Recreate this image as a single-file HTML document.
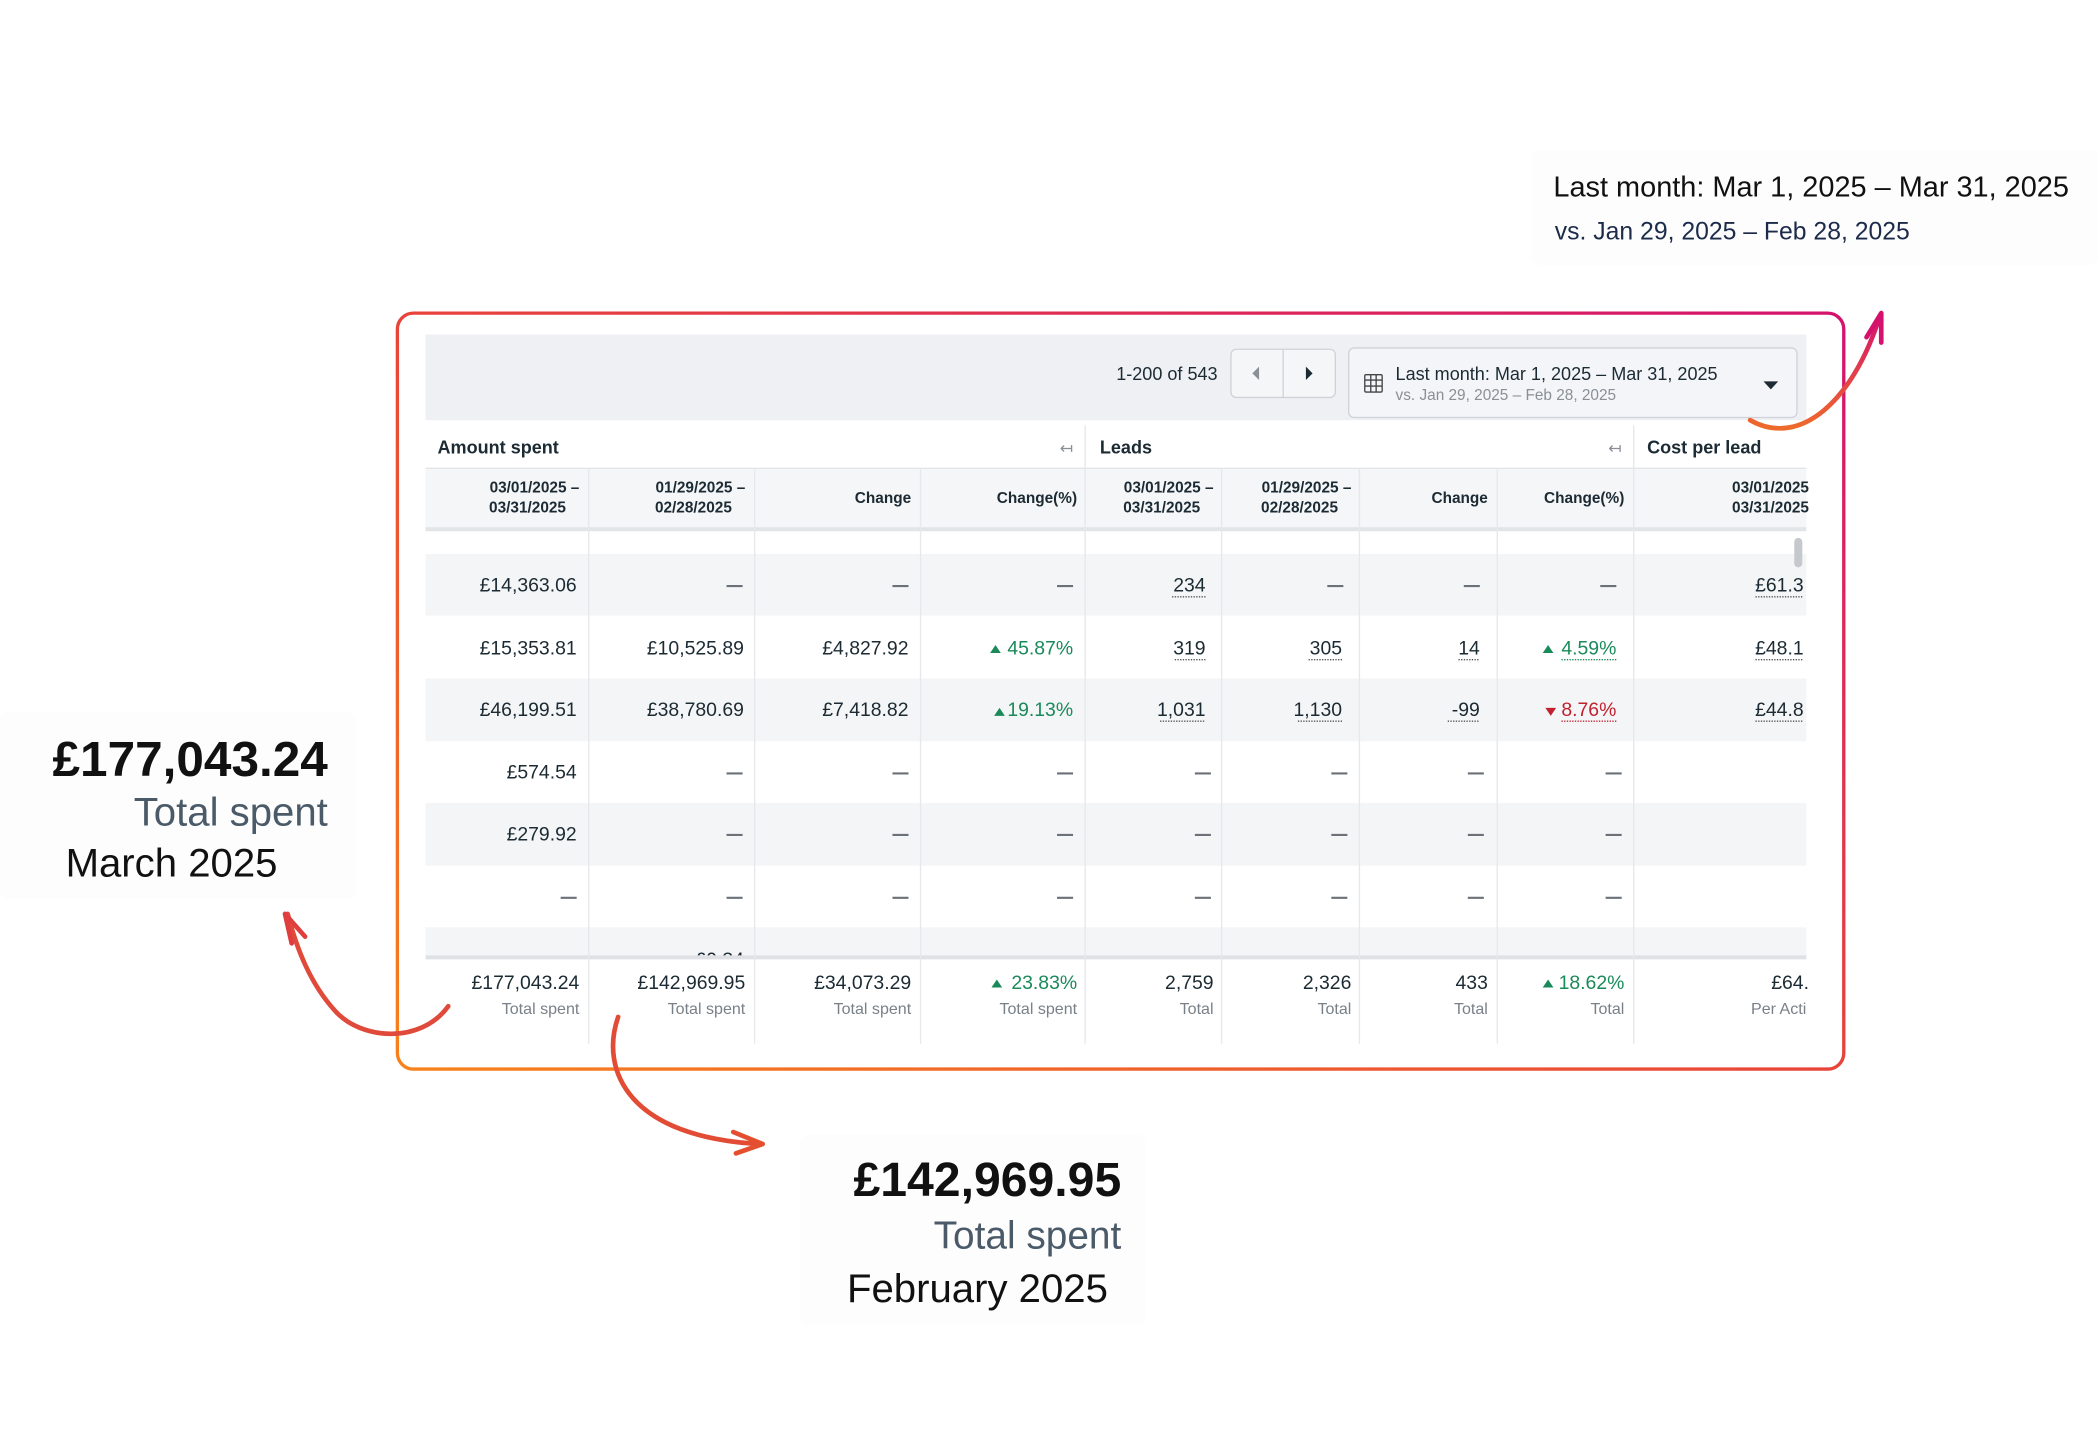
<!DOCTYPE html>
<html><head><meta charset="utf-8"><style>
html,body{margin:0;padding:0;background:#fff;}
svg{display:block;}
text{font-family:"Liberation Sans",sans-serif;}
</style></head><body>
<svg width="2098" height="1432" viewBox="0 0 1568 1070.2" xmlns="http://www.w3.org/2000/svg">
<defs>
<linearGradient id="fr" x1="0" y1="1" x2="1" y2="0">
<stop offset="0" stop-color="#f7821b"/><stop offset="0.5" stop-color="#e8443a"/><stop offset="1" stop-color="#d4126e"/>
</linearGradient>
<linearGradient id="ar1" x1="0" y1="1" x2="0" y2="0">
<stop offset="0" stop-color="#ee6a2a"/><stop offset="1" stop-color="#d4126e"/>
</linearGradient>
<clipPath id="tc"><rect x="318" y="396" width="1032" height="318"/></clipPath>
</defs>
<rect width="1568" height="1071" fill="#fff"/>
<rect x="0" y="532" width="266" height="140" fill="#fdfdfd" rx="6"/>
<rect x="598" y="848" width="258" height="142" fill="#fdfdfd" rx="6"/>
<rect x="1145" y="112" width="423" height="86" fill="#fdfdfd" rx="6"/>

<rect x="318" y="250" width="1032" height="530" fill="#fff"/>
<rect x="318" y="250" width="1032" height="64" fill="#eef0f4"/>
<rect x="318" y="318" width="1032" height="32" fill="#fff"/>
<rect x="318" y="350" width="1032" height="46" fill="#f5f6f8"/>
<line x1="318" y1="350" x2="1350" y2="350" stroke="#e3e5e9"/>
<rect x="318" y="394" width="1032" height="3" fill="#e2e4e8"/>
<g fill="#f4f5f7">
<rect x="318" y="414" width="1032" height="46"/>
<rect x="318" y="507" width="1032" height="47"/>
<rect x="318" y="600" width="1032" height="47"/>
<rect x="318" y="693" width="1032" height="23"/>
</g>
<rect x="318" y="714" width="1032" height="3" fill="#dfe1e5"/>
<g stroke="#e6e8eb" stroke-width="1">
<line x1="440" y1="350" x2="440" y2="780"/><line x1="564" y1="350" x2="564" y2="780"/>
<line x1="688" y1="350" x2="688" y2="780"/><line x1="811" y1="318" x2="811" y2="780"/>
<line x1="913" y1="350" x2="913" y2="780"/><line x1="1016" y1="350" x2="1016" y2="780"/>
<line x1="1119" y1="350" x2="1119" y2="780"/><line x1="1221" y1="318" x2="1221" y2="780"/>
</g>
<text x="910" y="284" font-size="13.5" text-anchor="end" fill="#1c2b33">1-200 of 543</text>
<rect x="920" y="261" width="78" height="36" rx="4" fill="#f5f6f8" stroke="#cfd3d9"/>
<line x1="959" y1="261" x2="959" y2="297" stroke="#cfd3d9"/>
<path d="M941 274 L936 279 L941 284Z" fill="#8a8f96"/><path d="M976 274 L981 279 L976 284Z" fill="#1c2b33"/>
<rect x="1008" y="260" width="335" height="52" rx="4" fill="#f3f5f8" stroke="#cfd3d9"/>
<g stroke="#444" fill="none" stroke-width="1"><rect x="1020" y="280" width="13" height="13" rx="1"/><line x1="1020" y1="284" x2="1033" y2="284"/><line x1="1020" y1="288.5" x2="1033" y2="288.5"/><line x1="1024.5" y1="280" x2="1024.5" y2="293"/><line x1="1028.5" y1="280" x2="1028.5" y2="293"/></g>
<text x="1043" y="284" font-size="13.5" fill="#1c2b33">Last month: Mar 1, 2025 – Mar 31, 2025</text>
<text x="1043" y="299" font-size="11.5" fill="#8a8f96">vs. Jan 29, 2025 – Feb 28, 2025</text>
<path d="M1318 285 L1329 285 L1323.5 291Z" fill="#1c2b33"/>
<g font-weight="bold" fill="#1c2b33">
<text x="327" y="339" font-size="13.5">Amount spent</text>
<text x="822" y="339" font-size="13.5">Leads</text>
<text x="1231" y="339" font-size="13.5">Cost per lead</text>
</g>
<g fill="#8a8f96" font-size="12"><text x="792" y="339">↤</text><text x="1202" y="339">↤</text></g>
<g font-weight="bold" fill="#1c2b33" font-size="11.5" text-anchor="end">
<text x="433" y="368">03/01/2025 –</text><text x="423" y="383">03/31/2025</text>
<text x="557" y="368">01/29/2025 –</text><text x="547" y="383">02/28/2025</text>
<text x="681" y="376">Change</text><text x="805" y="376">Change(%)</text>
<text x="907" y="368">03/01/2025 –</text><text x="897" y="383">03/31/2025</text>
<text x="1010" y="368">01/29/2025 –</text><text x="1000" y="383">02/28/2025</text>
<text x="1112" y="376">Change</text><text x="1214" y="376">Change(%)</text>
<text x="1352" y="368">03/01/2025</text><text x="1352" y="383">03/31/2025</text>
</g>
<rect x="1341" y="402" width="6" height="22" rx="3" fill="#c5c8cd"/>
<g font-size="14.5" fill="#1c2b33" text-anchor="end">
<text x="431" y="442">£14,363.06</text><text x="901" y="442">234</text><text x="1348" y="442">£61.3</text>
<text x="431" y="489">£15,353.81</text><text x="556" y="489">£10,525.89</text><text x="679" y="489">£4,827.92</text>
<text x="901" y="489">319</text><text x="1003" y="489">305</text><text x="1106" y="489">14</text><text x="1348" y="489">£48.1</text>
<text x="431" y="535">£46,199.51</text><text x="556" y="535">£38,780.69</text><text x="679" y="535">£7,418.82</text>
<text x="901" y="535">1,031</text><text x="1003" y="535">1,130</text><text x="1106" y="535">-99</text><text x="1348" y="535">£44.8</text>
<text x="431" y="582">£574.54</text><text x="431" y="628">£279.92</text>
<text x="556" y="722" clip-path="url(#tc)">£0.34</text>
</g>
<g fill="#1a8a5a" font-size="14.5" text-anchor="end">
<text x="802" y="489">45.87%</text><text x="802" y="535">19.13%</text><text x="1208" y="489">4.59%</text>
</g>
<text x="1208" y="535" font-size="14.5" text-anchor="end" fill="#c0222f">8.76%</text>
<path d="M740 488 L744 482 L748 488Z" fill="#1a8a5a"/><path d="M743 535 L747 529 L751 535Z" fill="#1a8a5a"/>
<path d="M1153 488 L1157 482 L1161 488Z" fill="#1a8a5a"/><path d="M1155 529 L1163 529 L1159 535Z" fill="#c0222f"/>
<g stroke="#555" stroke-dasharray="1,1" stroke-width="1">
<line x1="876" y1="446" x2="901" y2="446"/><line x1="1312" y1="446" x2="1348" y2="446"/>
<line x1="878" y1="493" x2="901" y2="493"/><line x1="978" y1="493" x2="1003" y2="493"/><line x1="1090" y1="493" x2="1106" y2="493"/><line x1="1312" y1="493" x2="1348" y2="493"/>
<line x1="867" y1="539" x2="901" y2="539"/><line x1="970" y1="539" x2="1003" y2="539"/><line x1="1082" y1="539" x2="1106" y2="539"/><line x1="1312" y1="539" x2="1348" y2="539"/>
</g>
<line x1="1167" y1="493" x2="1208" y2="493" stroke="#1a8a5a" stroke-dasharray="1,1"/>
<line x1="1167" y1="539" x2="1208" y2="539" stroke="#c0222f" stroke-dasharray="1,1"/>
<g stroke="#6b7178" stroke-width="1.6">
<line x1="543" y1="438" x2="555" y2="438"/><line x1="667" y1="438" x2="679" y2="438"/><line x1="790" y1="438" x2="802" y2="438"/>
<line x1="992" y1="438" x2="1004" y2="438"/><line x1="1094" y1="438" x2="1106" y2="438"/><line x1="1196" y1="438" x2="1208" y2="438"/>
<line x1="543" y1="578" x2="555" y2="578"/><line x1="667" y1="578" x2="679" y2="578"/><line x1="790" y1="578" x2="802" y2="578"/><line x1="893" y1="578" x2="905" y2="578"/><line x1="995" y1="578" x2="1007" y2="578"/><line x1="1097" y1="578" x2="1109" y2="578"/><line x1="1200" y1="578" x2="1212" y2="578"/>
<line x1="543" y1="624" x2="555" y2="624"/><line x1="667" y1="624" x2="679" y2="624"/><line x1="790" y1="624" x2="802" y2="624"/><line x1="893" y1="624" x2="905" y2="624"/><line x1="995" y1="624" x2="1007" y2="624"/><line x1="1097" y1="624" x2="1109" y2="624"/><line x1="1200" y1="624" x2="1212" y2="624"/>
<line x1="419" y1="671" x2="431" y2="671"/><line x1="543" y1="671" x2="555" y2="671"/><line x1="667" y1="671" x2="679" y2="671"/><line x1="790" y1="671" x2="802" y2="671"/><line x1="893" y1="671" x2="905" y2="671"/><line x1="995" y1="671" x2="1007" y2="671"/><line x1="1097" y1="671" x2="1109" y2="671"/><line x1="1200" y1="671" x2="1212" y2="671"/>
</g>
<g font-size="14.5" fill="#1c2b33" text-anchor="end">
<text x="433" y="739">£177,043.24</text><text x="557" y="739">£142,969.95</text><text x="681" y="739">£34,073.29</text>
<text x="907" y="739">2,759</text><text x="1010" y="739">2,326</text><text x="1112" y="739">433</text><text x="1352" y="739">£64.</text>
</g>
<g font-size="14.5" fill="#1a8a5a" text-anchor="end"><text x="805" y="739">23.83%</text><text x="1214" y="739">18.62%</text></g>
<path d="M741 738 L745 732 L749 738Z" fill="#1a8a5a"/><path d="M1153 738 L1157 732 L1161 738Z" fill="#1a8a5a"/>
<g font-size="12" fill="#7a8088" text-anchor="end">
<text x="433" y="758">Total spent</text><text x="557" y="758">Total spent</text><text x="681" y="758">Total spent</text><text x="805" y="758">Total spent</text>
<text x="907" y="758">Total</text><text x="1010" y="758">Total</text><text x="1112" y="758">Total</text><text x="1214" y="758">Total</text><text x="1350" y="758">Per Acti</text>
</g>
<rect x="297" y="234" width="1081" height="565" rx="12" fill="none" stroke="url(#fr)" stroke-width="2.5"/>
<g fill="none" stroke-width="3.5" stroke-linecap="round" stroke-linejoin="round">
<path d="M335 752 C315 780 270 778 250 755 C232 735 222 710 215 683" stroke="#e04a3a"/>
<path d="M213 683 L228 700 M213 683 L218 705" stroke="#df3d3e"/>
<path d="M462 760 C448 800 470 850 568 855" stroke="#e24c35"/>
<path d="M570 855 L548 846 M570 855 L550 862" stroke="#e4502f"/>
<path d="M1308 314 C1345 335 1385 300 1405 236" stroke="url(#ar1)"/>
<path d="M1406 234 L1395 252 M1406 234 L1406 256" stroke="#d4126e"/>
</g>
<text x="245" y="580" font-size="37" font-weight="bold" text-anchor="end" fill="#111">£177,043.24</text>
<text x="245" y="617" font-size="30" text-anchor="end" fill="#4a5a68">Total spent</text>
<text x="49" y="655" font-size="30" fill="#111">March 2025</text>
<text x="838" y="894" font-size="36" font-weight="bold" text-anchor="end" fill="#111">£142,969.95</text>
<text x="838" y="933" font-size="29" text-anchor="end" fill="#4a5a68">Total spent</text>
<text x="633" y="973" font-size="30" fill="#111">February 2025</text>
<text x="1161" y="147" font-size="21.6" fill="#111">Last month: Mar 1, 2025 – Mar 31, 2025</text>
<text x="1162" y="179" font-size="18.5" fill="#1c2b4a">vs. Jan 29, 2025 – Feb 28, 2025</text>
</svg>
</body></html>
